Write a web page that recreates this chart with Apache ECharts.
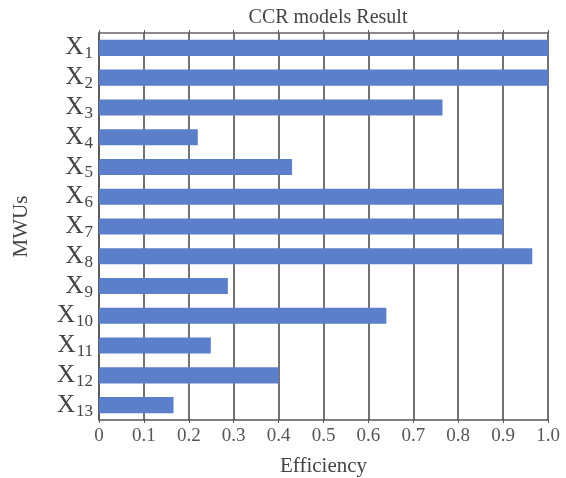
<!DOCTYPE html>
<html>
<head>
<meta charset="utf-8">
<script src="https://cdn.jsdelivr.net/npm/echarts@6/dist/echarts.min.js"></script>
<style>html,body{margin:0;padding:0;background:#fff;}#c{width:566px;height:478px;}</style>
</head>
<body>
<div id="c"></div>
<script>
var categories = ['1','2','3','4','5','6','7','8','9','10','11','12','13'];
var efficiency = [1.0, 1.0, 0.765, 0.22, 0.43, 0.90, 0.90, 0.965, 0.287, 0.64, 0.249, 0.40, 0.166];
var tickLabels = ['0','0.1','0.2','0.3','0.4','0.5','0.6','0.7','0.8','0.9','1.0'];

var chart = echarts.init(document.getElementById('c'));
var font = 'Liberation Serif';
chart.setOption({
  backgroundColor: '#fff',
  title: {
    text: 'CCR models Result', left: 323, top: 3, textAlign: 'center',
    textStyle: {fontFamily: font, fontSize: 20, fontWeight: 'normal', color: '#444'}
  },
  grid: {left: 99, right: 18, top: 33, bottom: 58, containLabel: false, outerBoundsMode: 'none'},
  xAxis: [{
    type: 'value', min: 0, max: 1, interval: 0.1,
    name: 'Efficiency', nameLocation: 'middle', nameGap: 36,
    nameTextStyle: {fontFamily: font, fontSize: 21, color: '#444'},
    axisLine: {show: true, lineStyle: {color: '#555', width: 1.5}},
    axisTick: {show: true, length: 3, lineStyle: {color: '#555'}},
    axisLabel: {fontFamily: font, fontSize: 19, color: '#555', margin: 7,
      formatter: function (v) { return tickLabels[Math.round(v * 10)]; }},
    splitLine: {show: true, lineStyle: {color: '#444', width: 1.5}}
  }, {
    type: 'value', min: 0, max: 1, interval: 0.1, position: 'top',
    axisLine: {show: true, lineStyle: {color: '#666', width: 1.5}},
    axisTick: {show: true, length: 3, lineStyle: {color: '#555'}},
    axisLabel: {show: false}, splitLine: {show: false}
  }],
  yAxis: {
    type: 'category', data: categories, inverse: true,
    name: 'MWUs', nameLocation: 'middle', nameGap: 67, nameRotate: 90,
    nameTextStyle: {fontFamily: font, fontSize: 21, color: '#444'},
    axisLine: {show: true, lineStyle: {color: '#555', width: 1.5}},
    axisTick: {show: false},
    axisLabel: {
      margin: 6,
      formatter: function (v) { return '{x|X}{s|' + v + '}'; },
      rich: {
        x: {fontFamily: font, fontSize: 25, color: '#444', lineHeight: 24},
        s: {fontFamily: font, fontSize: 17, color: '#444', padding: [12, 0, 0, 1]}
      }
    }
  },
  series: [{
    type: 'bar', data: efficiency, barWidth: '54%',
    itemStyle: {color: '#5b7fc8'}
  }]
});
</script>
</body>
</html>
